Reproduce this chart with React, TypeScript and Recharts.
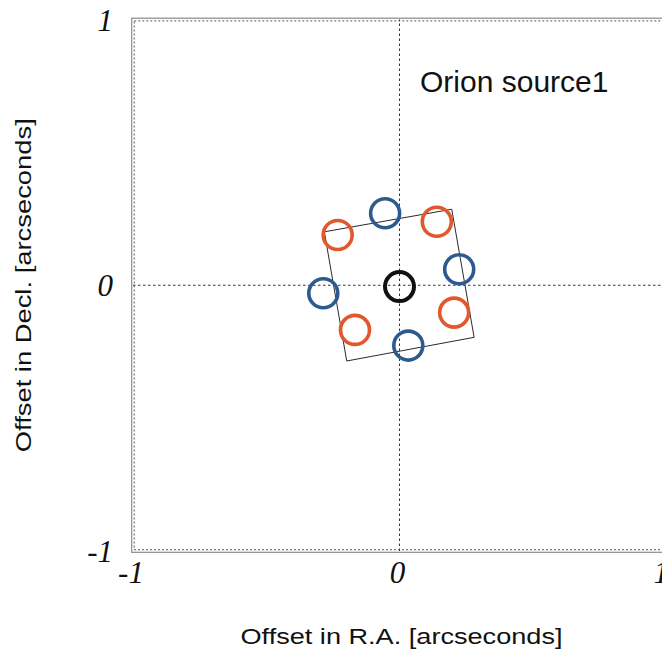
import React from 'react';
import {
  ScatterChart,
  Scatter,
  XAxis,
  YAxis,
  ReferenceLine,
  ReferenceArea,
} from 'recharts';

// Offsets in arcseconds (R.A., Decl.)
const centerSource = [{ x: 0, y: -0.005 }];

const orangeSpots = [
  { x: -0.232, y: 0.189 },
  { x: 0.14, y: 0.239 },
  { x: 0.205, y: -0.103 },
  { x: -0.167, y: -0.168 },
];

const blueSpots = [
  { x: -0.054, y: 0.271 },
  { x: 0.224, y: 0.06 },
  { x: 0.033, y: -0.227 },
  { x: -0.286, y: -0.03 },
];

// Corners of the tilted square, closed back onto the first corner
const squareCorners = [
  { x: -0.282, y: 0.201 },
  { x: 0.196, y: 0.286 },
  { x: 0.28, y: -0.196 },
  { x: -0.198, y: -0.285 },
  { x: -0.282, y: 0.201 },
];

const axisTicks = [-1, 0, 1];

const xTitle = 'Offset in R.A. [arcseconds]';
const yTitle = 'Offset in Decl. [arcseconds]';
const sourceName = 'Orion source1';

const W = 670;
const H = 658;

const ORANGE = '#e2572b';
const BLUE = '#2d5a8f';
const BLACK = '#111111';

const sans = '"Liberation Sans", Arial, Helvetica, sans-serif';
const serif = '"Liberation Serif", "Times New Roman", serif';

const ring = (color: string, width: number) => (props: any) => (
  <circle
    cx={props.cx}
    cy={props.cy}
    r={14.5}
    fill="none"
    stroke={color}
    strokeWidth={width}
  />
);

// The rightmost tick sits at the page edge, so it is right-aligned to stay visible
const XTick = (props: any) => {
  const last = props.index === axisTicks.length - 1;
  return (
    <text
      x={props.x}
      y={props.y}
      dx={last ? 3 : -2}
      dy={32}
      textAnchor={last ? 'end' : 'middle'}
      fontFamily={serif}
      fontStyle="italic"
      fontSize={31}
      fill="#111"
    >
      {props.payload.value}
    </text>
  );
};

const YTick = (props: any) => (
  <text
    x={props.x}
    y={props.y}
    dx={-20}
    dy={11}
    textAnchor="end"
    fontFamily={serif}
    fontStyle="italic"
    fontSize={31}
    fill="#111"
  >
    {props.payload.value}
  </text>
);

const XTitle = (props: any) => {
  const vb = props.viewBox || {};
  return (
    <text
      x={vb.x + vb.width / 2 + 2}
      y={vb.y + vb.height - 14}
      textAnchor="middle"
      fontFamily={sans}
      fontSize={22}
      textLength={322}
      lengthAdjust="spacingAndGlyphs"
      fill="#111"
    >
      {xTitle}
    </text>
  );
};

const YTitle = (props: any) => {
  const vb = props.viewBox || {};
  const cx = 31;
  const cy = vb.y + vb.height / 2;
  return (
    <text
      x={cx}
      y={cy}
      transform={`rotate(-90, ${cx}, ${cy})`}
      textAnchor="middle"
      fontFamily={sans}
      fontSize={22}
      textLength={334}
      lengthAdjust="spacingAndGlyphs"
      fill="#111"
    >
      {yTitle}
    </text>
  );
};

// Double frame: a thin solid outer border and a dotted inner border
const Frame = (props: any) => {
  const { x, y, width, height } = props;
  return (
    <g>
      <rect
        x={x - 1.3}
        y={y - 1.3}
        width={width + 2.6}
        height={height + 2.6}
        fill="none"
        stroke="#8a8a8a"
        strokeWidth={1.2}
      />
      <rect
        x={x + 1.3}
        y={y + 1.3}
        width={width - 2.6}
        height={height - 2.6}
        fill="none"
        stroke="#777"
        strokeWidth={1.2}
        strokeDasharray="2 2"
      />
    </g>
  );
};

const Nothing = () => <g />;

export default function App() {
  return (
    <div style={{ position: 'relative', width: W, height: H, margin: '-8px 0 0 -8px' }}>
      <ScatterChart
        width={W}
        height={H}
        margin={{ top: 19.5, right: 4, bottom: 0, left: 0 }}
      >
        <XAxis
          type="number"
          dataKey="x"
          domain={[-1, 1]}
          ticks={axisTicks}
          allowDataOverflow
          axisLine={false}
          tickLine={false}
          tickSize={0}
          tickMargin={0}
          height={107}
          tick={<XTick />}
          label={{ content: XTitle }}
        />
        <YAxis
          type="number"
          dataKey="y"
          domain={[-1, 1]}
          ticks={axisTicks}
          allowDataOverflow
          axisLine={false}
          tickLine={false}
          tickSize={0}
          tickMargin={0}
          width={133}
          tick={<YTick />}
          label={{ content: YTitle }}
        />
        <ReferenceArea
          x1={-1}
          x2={1}
          y1={-1}
          y2={1}
          shape={<Frame />}
          fill="none"
        />
        <ReferenceLine x={0} stroke="#333" strokeWidth={1} strokeDasharray="2.5 2.5" />
        <ReferenceLine y={0} stroke="#333" strokeWidth={1} strokeDasharray="2.5 2.5" />
        <Scatter
          data={squareCorners}
          line={{ stroke: '#2a2a2a', strokeWidth: 1 }}
          lineType="joint"
          shape={<Nothing />}
          isAnimationActive={false}
        />
        <Scatter data={orangeSpots} shape={ring(ORANGE, 3.6)} isAnimationActive={false} />
        <Scatter data={blueSpots} shape={ring(BLUE, 3.6)} isAnimationActive={false} />
        <Scatter data={centerSource} shape={ring(BLACK, 4)} isAnimationActive={false} />
      </ScatterChart>
      <div
        style={{
          position: 'absolute',
          left: 420,
          top: 66.5,
          fontFamily: sans,
          fontSize: 30,
          lineHeight: '30px',
          color: '#111',
          whiteSpace: 'nowrap',
        }}
      >
        {sourceName}
      </div>
    </div>
  );
}
